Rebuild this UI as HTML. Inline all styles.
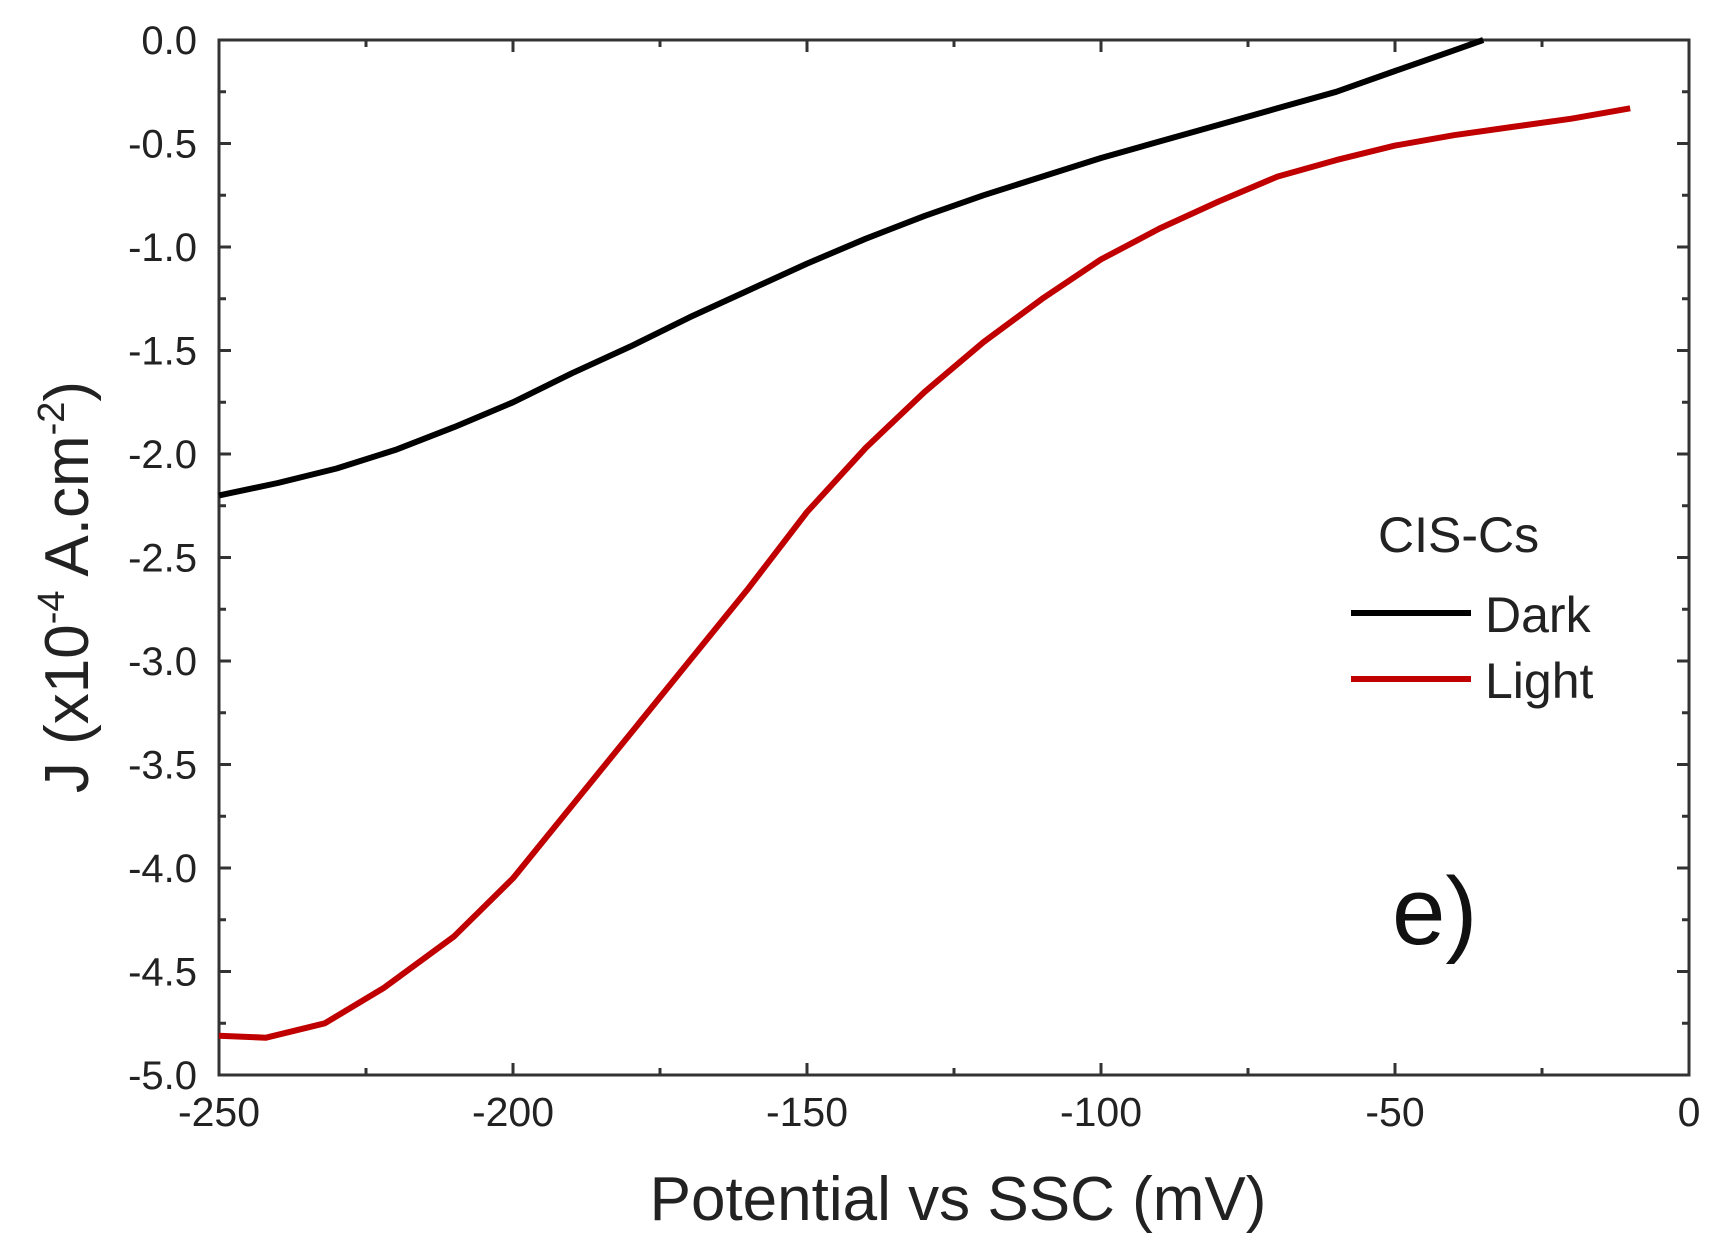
<!DOCTYPE html>
<html><head><meta charset="utf-8"><style>
html,body{margin:0;padding:0;background:#fff;}
svg{display:block;font-family:"Liberation Sans",Arial,sans-serif;}
</style></head><body>
<svg id="chart" width="1728" height="1253" viewBox="0 0 1728 1253" xmlns="http://www.w3.org/2000/svg">
<g id="axes"></g>
<g id="series"></g>
<text x="958" y="1220" font-size="62" text-anchor="middle" fill="#222">Potential vs SSC (mV)</text>
<text transform="translate(88,587) rotate(-90)" font-size="62" text-anchor="middle" fill="#222">J (x10<tspan dy="-24" font-size="38">-4</tspan><tspan dy="24"> A.cm</tspan><tspan dy="-24" font-size="38">-2</tspan><tspan dy="24">)</tspan></text>
<g>
<text x="1378" y="552" font-size="50" fill="#222">CIS-Cs</text>
<line x1="1351" y1="613" x2="1471" y2="613" stroke="#000" stroke-width="6"/>
<text x="1485" y="632" font-size="50" fill="#222">Dark</text>
<line x1="1351" y1="679" x2="1471" y2="679" stroke="#c00000" stroke-width="6"/>
<text x="1485" y="698" font-size="50" fill="#222">Light</text>
</g>
<text x="1392" y="944" font-size="96" fill="#111">e)</text>
</svg>
<script>
const darkX=[-250,-240,-230,-220,-210,-200,-190,-180,-170,-160,-150,-140,-130,-120,-110,-100,-90,-80,-70,-60,-50,-40,-35];
const darkY=[-2.2,-2.14,-2.07,-1.98,-1.87,-1.75,-1.61,-1.48,-1.34,-1.21,-1.08,-0.96,-0.85,-0.75,-0.66,-0.57,-0.49,-0.41,-0.33,-0.25,-0.15,-0.05,0.0];
const lightX=[-250,-242,-232,-222,-210,-200,-190,-180,-170,-160,-150,-140,-130,-120,-110,-100,-90,-80,-70,-60,-50,-40,-30,-20,-10];
const lightY=[-4.81,-4.82,-4.75,-4.58,-4.33,-4.05,-3.7,-3.35,-3.0,-2.65,-2.28,-1.97,-1.7,-1.46,-1.25,-1.06,-0.91,-0.78,-0.66,-0.58,-0.51,-0.46,-0.42,-0.38,-0.33];
const xTicks=[-250,-200,-150,-100,-50,0];
const xTickLabels=["-250","-200","-150","-100","-50","0"];
const yTicks=[0,-0.5,-1,-1.5,-2,-2.5,-3,-3.5,-4,-4.5,-5];
const yTickLabels=["0.0","-0.5","-1.0","-1.5","-2.0","-2.5","-3.0","-3.5","-4.0","-4.5","-5.0"];

const L=219,R=1689,T=40,B=1075;
const xMin=-250,xMax=0,yMin=-5,yMax=0;
function sx(v){return L+(v-xMin)/(xMax-xMin)*(R-L);}
function sy(v){return T+(yMax-v)/(yMax-yMin)*(B-T);}
const NS="http://www.w3.org/2000/svg";
const axes=document.getElementById('axes');
const series=document.getElementById('series');
function mk(tag,attrs,parent){const e=document.createElementNS(NS,tag);for(const k in attrs)e.setAttribute(k,attrs[k]);parent.appendChild(e);return e;}

const frame=mk('rect',{x:L,y:T,width:R-L,height:B-T,fill:'none',stroke:'#333','stroke-width':3},axes);



for(let v=xMin;v<=xMax;v+=25){
  const major=(v%50===0);const len=major?12:7;const x=sx(v);
  const t1=mk('line',{x1:x,y1:B,x2:x,y2:B-len,stroke:'#333','stroke-width':3},axes);
  
  
  const t2=mk('line',{x1:x,y1:T,x2:x,y2:T+len,stroke:'#333','stroke-width':3},axes);
  
  
}
xTicks.forEach((v,i)=>{
  const t=mk('text',{x:sx(v),y:1126,'font-size':41,'text-anchor':'middle',fill:'#222'},axes);
  t.textContent=xTickLabels[i];
  
  
});
for(let v=yMax;v>=yMin-1e-9;v-=0.25){
  const major=Math.abs(Math.round(v*2)-v*2)<1e-6;const len=major?12:7;const y=sy(v);
  const t1=mk('line',{x1:L,y1:y,x2:L+len,y2:y,stroke:'#333','stroke-width':3},axes);
  
  
  const t2=mk('line',{x1:R,y1:y,x2:R-len,y2:y,stroke:'#333','stroke-width':3},axes);
  
  
}
yTicks.forEach((v,i)=>{
  const t=mk('text',{x:197,y:sy(v)+14,'font-size':40,'text-anchor':'end',fill:'#222'},axes);
  t.textContent=yTickLabels[i];
  
  
});
function path(xs,ys){return xs.map((x,i)=>(i?'L':'M')+sx(x).toFixed(1)+','+sy(ys[i]).toFixed(1)).join(' ');}
const d=mk('path',{d:path(darkX,darkY),fill:'none',stroke:'#000','stroke-width':6,'stroke-linejoin':'round'},series);


const l=mk('path',{d:path(lightX,lightY),fill:'none',stroke:'#c00000','stroke-width':6,'stroke-linejoin':'round'},series);


</script>
</body></html>
